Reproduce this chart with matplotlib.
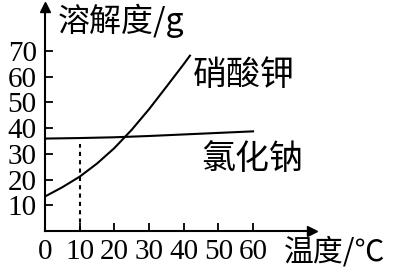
import matplotlib
matplotlib.use("Agg")
import matplotlib.pyplot as plt

# Data
temps_kno3 = [0, 5, 10, 15, 20, 25, 30, 35, 40, 41.8]
sol_kno3 = [13.4, 17.0, 21.1, 26.2, 32.2, 39.3, 47.3, 56.0, 64.8, 68.1]
temps_nacl = [0, 10, 20, 30, 40, 50, 60]
sol_nacl = [35.9, 36.1, 36.4, 36.9, 37.5, 38.1, 38.7]
x_ticks = [0, 10, 20, 30, 40, 50, 60]
y_ticks = [10, 20, 30, 40, 50, 60, 70]
dotted_x = [10, 10]
dotted_y = [0, 33.9]

plt.rcParams["font.family"] = ["Liberation Serif", "DejaVu Serif"]
plt.rcParams["xtick.labelsize"] = 21
plt.rcParams["ytick.labelsize"] = 21

W, H = 406, 279
fig = plt.figure(figsize=(W / 100, H / 100), dpi=100)
ax = fig.add_axes([45 / W, (H - 231) / H, 267 / W, 224 / H])
ax.set_xlim(0, 77)
ax.set_ylim(0, 87)

ax.plot(temps_kno3, sol_kno3, color="black", lw=1.5)
ax.plot(temps_nacl, sol_nacl, color="black", lw=1.5)
ax.plot(dotted_x, dotted_y, color="black", lw=1.5, ls=(0, (2, 2)))

for s in ["top", "right"]:
    ax.spines[s].set_visible(False)
for s in ["left", "bottom"]:
    ax.spines[s].set_linewidth(1.5)

# arrow heads
ax.plot([0], [1], marker="^", color="black", markersize=7, transform=ax.transAxes, clip_on=False)
ax.plot([1], [0], marker=">", color="black", markersize=7, transform=ax.transAxes, clip_on=False)

ax.set_xticks(x_ticks)
ax.set_xticklabels([str(v) for v in x_ticks])
ax.set_yticks(y_ticks)
ax.set_yticklabels([str(v) for v in y_ticks])
ax.tick_params(axis="both", direction="in", length=6, width=1.3,
               labelsize=21, labelfontfamily="Liberation Serif")
ax.tick_params(axis="y", pad=6)
ax.tick_params(axis="x", pad=6)

cjk = ["Noto Sans CJK SC", "DejaVu Sans"]
fig.text(58 / W, 1 - 21 / H, "溶解度/g", fontfamily=cjk, fontsize=23, va="center", ha="left")
fig.text(193 / W, 1 - 75 / H, "硝酸钾", fontfamily=cjk, fontsize=24.5, va="center", ha="left")
fig.text(201 / W, 1 - 159 / H, "氯化钠", fontfamily=cjk, fontsize=24.5, va="center", ha="left")
fig.text(284 / W, 1 - 252 / H, "温度/℃", fontfamily=cjk, fontsize=21.5, va="center", ha="left")

fig.savefig("out.png", dpi=100)
